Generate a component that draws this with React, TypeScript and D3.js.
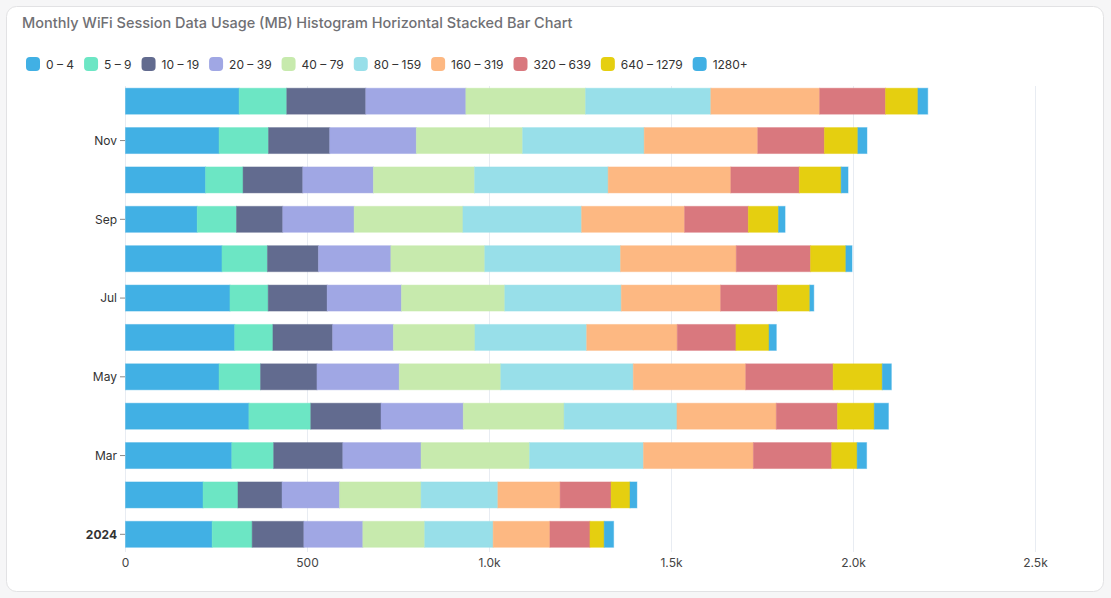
import React from "react";
import * as d3 from "d3";

const months = ["2024-01", "2024-02", "2024-03", "2024-04", "2024-05", "2024-06", "2024-07", "2024-08", "2024-09", "2024-10", "2024-11", "2024-12"];
const bins = ["0 – 4", "5 – 9", "10 – 19", "20 – 39", "40 – 79", "80 – 159", "160 – 319", "320 – 639", "640 – 1279", "1280+"];
const colors = ["#41b0e4", "#6ce6c4", "#626b8f", "#a0a7e4", "#c7eaad", "#98dfe9", "#fdb882", "#d9787e", "#e5cf10", "#41b0e4"];

const b0_4 = [238, 213, 292, 339, 257, 300, 287, 265, 197, 220, 257, 312];
const b5_9 = [110, 96, 115, 170, 114, 105, 105, 125, 108, 103, 136, 131];
const b10_19 = [142, 121, 190, 193, 155, 164, 162, 140, 127, 164, 168, 217];
const b20_39 = [162, 158, 215, 226, 226, 167, 204, 199, 196, 194, 238, 275];
const b40_79 = [170, 224, 298, 277, 279, 224, 284, 258, 299, 278, 292, 329];
const b80_159 = [188, 211, 313, 310, 364, 307, 320, 373, 326, 367, 334, 344];
const b160_319 = [156, 171, 302, 273, 309, 249, 273, 318, 283, 337, 312, 299];
const b320_639 = [110, 140, 215, 168, 240, 161, 156, 204, 175, 188, 183, 181];
const b640_1279 = [39, 52, 70, 101, 135, 91, 89, 97, 83, 115, 92, 89];
const b1280 = [26, 19, 26, 39, 25, 20, 11, 17, 18, 19, 25, 27];

const series = [b0_4, b5_9, b10_19, b20_39, b40_79, b80_159, b160_319, b320_639, b640_1279, b1280];
const xTicks = [0, 500, 1000, 1500, 2000, 2500];
const yTickMonths = ["2024-01", "2024-03", "2024-05", "2024-07", "2024-09", "2024-11"];

const W = 1111;
const H = 598;
const FONT = "Inter, 'Noto Sans', sans-serif";

function measure(text: string, font: string): number {
  const c = document.createElement("canvas");
  const ctx = c.getContext("2d");
  if (!ctx) return text.length * 6.5;
  ctx.font = font;
  return ctx.measureText(text).width;
}

export default function App() {
  const rows = months.map((m, i) => {
    const r: any = { month: m };
    bins.forEach((b, j) => (r[b] = series[j][i]));
    return r;
  });
  const stacked = d3.stack().keys(bins)(rows);

  const x = d3.scaleLinear().domain([0, 2500]).range([125.5, 1035.5]);
  const y = d3
    .scaleBand<string>()
    .domain([...months].reverse())
    .range([81.5, 554])
    .paddingInner(0.34)
    .paddingOuter(0.17);

  const parse = d3.timeParse("%Y-%m");
  const fmtTick = (m: string) => {
    const d = parse(m)!;
    return d.getMonth() === 0 ? d3.timeFormat("%Y")(d) : d3.timeFormat("%b")(d);
  };
  const fmtX = (v: number) => (v === 0 ? "0" : v < 1000 ? String(v) : d3.format(".1f")(v / 1000) + "k");

  const legendFont = `12px ${FONT}`;
  let lx = 26;
  const legendItems = bins.map((b, i) => {
    const item = { label: b, color: colors[i], x: lx };
    lx += 14 + 6 + measure(b, legendFont) + 10;
    return item;
  });

  return (
    <svg
      width={W}
      height={H}
      style={{ position: "absolute", left: 0, top: 0, display: "block", background: "#f6f6f7" }}
      fontFamily={FONT}
    >
      <rect x={6.5} y={6.5} width={1097} height={585} rx={10} fill="#ffffff" stroke="#e2e2e4" />
      <text x={22} y={28} fontSize={14.5} fontWeight={500} fill="#707074">
        Monthly WiFi Session Data Usage (MB) Histogram Horizontal Stacked Bar Chart
      </text>

      {legendItems.map((it) => (
        <g key={it.label} transform={`translate(${it.x},57)`}>
          <rect x={0} y={0} width={14} height={14} rx={4} fill={it.color} />
          <text x={20} y={11.5} fontSize={12} fill="#333">
            {it.label}
          </text>
        </g>
      ))}

      {xTicks.map((t) => (
        <g key={t}>
          <line x1={x(t)} x2={x(t)} y1={86} y2={552} stroke="#e8ecf2" strokeWidth={1} />
          <text x={x(t)} y={567} fontSize={12} fill="#444" textAnchor="middle">
            {fmtX(t)}
          </text>
        </g>
      ))}

      {stacked.map((s, j) => (
        <g key={s.key} fill={colors[j]} stroke={colors[j]} strokeOpacity={0.45}>
          {s.map((d) => (
            <rect
              key={(d.data as any).month}
              x={x(d[0])}
              width={x(d[1]) - x(d[0])}
              y={y((d.data as any).month)}
              height={y.bandwidth()}
            />
          ))}
        </g>
      ))}

      {yTickMonths.map((m) => {
        const cy = (y(m) as number) + y.bandwidth() / 2;
        const isYear = parse(m)!.getMonth() === 0;
        return (
          <g key={m}>
            <line x1={120} x2={125} y1={cy} y2={cy} stroke="#888" />
            <text
              x={117}
              y={cy}
              dy="0.35em"
              fontSize={12}
              textAnchor="end"
              fill="#333"
              fontWeight={isYear ? 700 : 400}
            >
              {fmtTick(m)}
            </text>
          </g>
        );
      })}
    </svg>
  );
}
